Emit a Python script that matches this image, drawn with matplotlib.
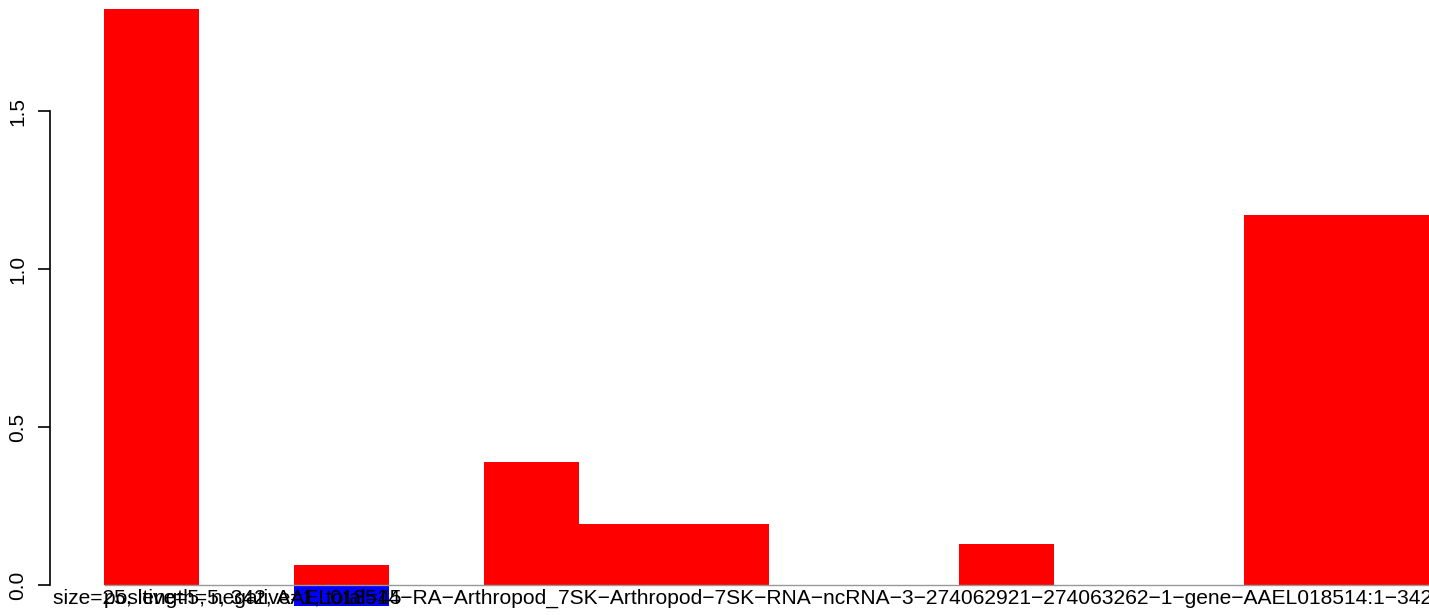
import matplotlib
matplotlib.use('Agg')
import matplotlib.pyplot as plt

plt.rcParams['font.family'] = ['Liberation Sans', 'DejaVu Sans']

# 每个位置一个槽，0 表示没有柱子
slots = list(range(14))
pos_values = [1.823, 0, 0.063, 0, 0.389, 0.193, 0.193, 0, 0, 0.130, 0, 0, 1.171, 1.171]
neg_values = [0, 0, -0.068, 0, 0, 0, 0, 0, 0, 0, 0, 0, 0, 0]
y_ticks = [0.0, 0.5, 1.0, 1.5]

label_main = ("size=25, length=5, 342, AAEL018514\u2212RA\u2212Arthropod_7SK\u2212Arthropod\u22127SK\u2212RNA"
              "\u2212ncRNA\u22123\u2212274062921\u2212274063262\u22121\u2212gene\u2212AAEL018514:1\u2212342")
label_count = "positive=5, negative=1, total=45"

W, H = 1429, 615
fig = plt.figure(figsize=(W / 100, H / 100), dpi=100)
ax = fig.add_axes([50 / W, 0, 1 - 50 / W, 1])

# 像素 -> 数据坐标
px_per_unit = 316
ax.set_ylim(-(H - 585) / px_per_unit, 585 / px_per_unit)
ax.set_xlim(-0.5 - 54 / 95, -0.5 + (W - 104) / 95)

ax.bar(slots, pos_values, width=1.0, color='#ff0000', linewidth=0)
ax.hlines(0, -0.5, 13.5, color='#999999', linewidth=1)
ax.bar(slots, neg_values, width=1.0, color='#0000ff', linewidth=0)

for s in ['top', 'right', 'bottom']:
    ax.spines[s].set_visible(False)
ax.spines['left'].set_bounds(0, 1.5)
ax.spines['left'].set_linewidth(1.2)
ax.set_xticks([])
ax.set_yticks(y_ticks)
ax.set_yticklabels([f'{t:.1f}' for t in y_ticks], rotation=90, va='center', fontsize=15)
ax.tick_params(axis='y', length=8.6, width=1.2, pad=8)

# 底部标签（互相重叠，与原图一致）
fig.text(53 / W, 1 - 598 / H, label_main, fontsize=15.1, va='center', ha='left')
fig.text(104 / W, 1 - 598 / H, label_count, fontsize=15.1, va='center', ha='left')

fig.savefig('out.png', dpi=100)
